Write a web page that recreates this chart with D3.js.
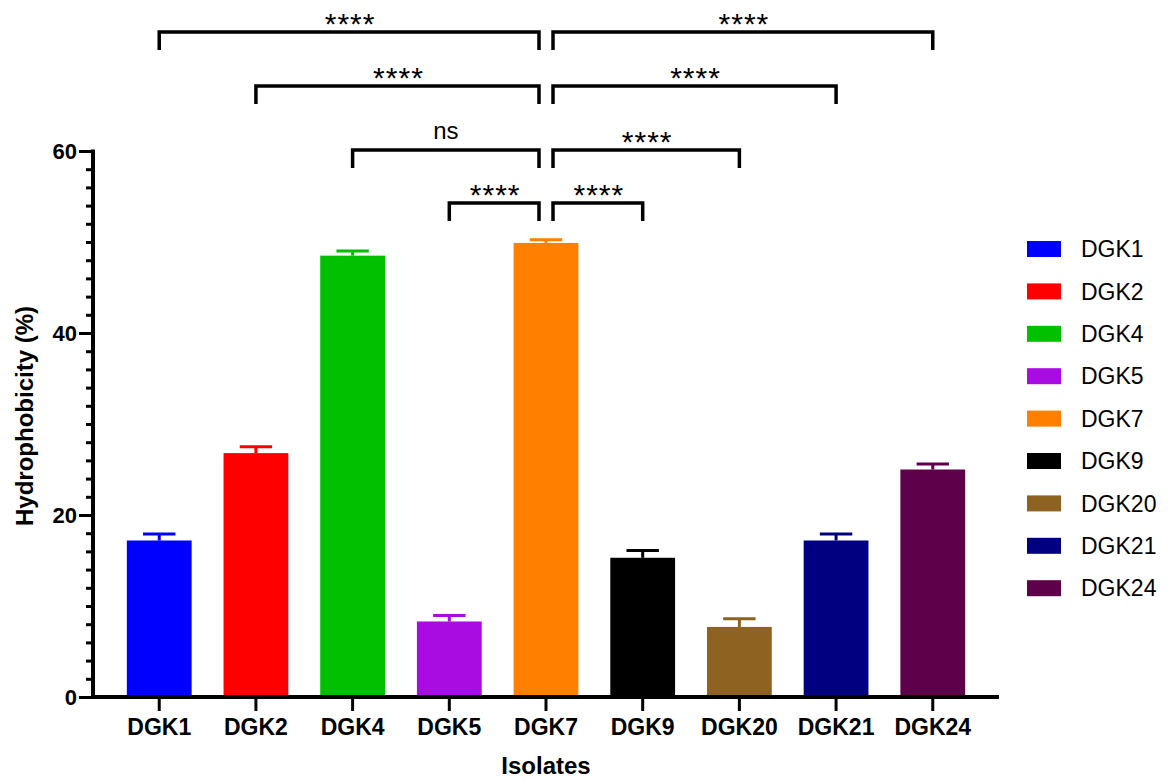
<!DOCTYPE html>
<html>
<head>
<meta charset="utf-8">
<script src="https://cdn.jsdelivr.net/npm/d3@7"></script>
<style>
  body { margin: 0; background: #fff; }
  svg { display: block; font-family: "Liberation Sans", Arial, sans-serif; }
</style>
</head>
<body>
<svg id="chart" width="1170" height="780"></svg>
<script>
// data
var isolates = ["DGK1", "DGK2", "DGK4", "DGK5", "DGK7", "DGK9", "DGK20", "DGK21", "DGK24"];
var means = [17.2, 26.8, 48.5, 8.3, 49.9, 15.3, 7.7, 17.2, 25.0];
var errors = [0.7, 0.7, 0.5, 0.65, 0.35, 0.8, 0.9, 0.7, 0.6];
var colors = ["#0000ff", "#ff0000", "#00c000", "#a80ce0", "#ff8000", "#000000", "#8e6220", "#000080", "#5f004a"];
var yTicks = [0, 20, 40, 60];
var comparisons = [
    ["DGK1", "DGK7", "****"],
    ["DGK2", "DGK7", "****"],
    ["DGK4", "DGK7", "ns"],
    ["DGK5", "DGK7", "****"],
    ["DGK7", "DGK24", "****"],
    ["DGK7", "DGK21", "****"],
    ["DGK7", "DGK20", "****"],
    ["DGK7", "DGK9", "****"]
];

var svg = d3.select("#chart");
var plot = { left: 93, right: 999, top: 151, bottom: 697 };

var xScale = d3.scaleBand()
    .domain(isolates)
    .range([plot.left, plot.right])
    .paddingInner(0.33)
    .paddingOuter(0.35);
var yScale = d3.scaleLinear()
    .domain([0, 60])
    .range([plot.bottom, plot.top]);

var rows = isolates.map(function(name, i){
    return { name: name, mean: means[i], err: errors[i], color: colors[i] };
});

// bars
svg.append("g").selectAll("rect")
    .data(rows)
    .enter()
    .append("rect")
    .attr("x", function(d){ return xScale(d.name); })
    .attr("y", function(d){ return yScale(d.mean); })
    .attr("width", xScale.bandwidth())
    .attr("height", function(d){ return yScale(0) - yScale(d.mean); })
    .attr("fill", function(d){ return d.color; });

// error bars (upper only)
var err = svg.append("g").selectAll("g")
    .data(rows)
    .enter()
    .append("g")
    .attr("stroke", function(d){ return d.color; })
    .attr("stroke-width", 3);
err.append("line")
    .attr("x1", function(d){ return xScale(d.name) + xScale.bandwidth() / 2; })
    .attr("x2", function(d){ return xScale(d.name) + xScale.bandwidth() / 2; })
    .attr("y1", function(d){ return yScale(d.mean); })
    .attr("y2", function(d){ return yScale(d.mean + d.err); });
err.append("line")
    .attr("x1", function(d){ return xScale(d.name) + xScale.bandwidth() / 4; })
    .attr("x2", function(d){ return xScale(d.name) + xScale.bandwidth() * 3 / 4; })
    .attr("y1", function(d){ return yScale(d.mean + d.err); })
    .attr("y2", function(d){ return yScale(d.mean + d.err); });

// y axis with minor ticks
var yAxis = svg.append("g")
    .attr("transform", `translate(${plot.left}, 0)`)
    .call(d3.axisLeft(yScale).tickValues(d3.range(0, 61, 2)).tickSize(7).tickFormat(""));
yAxis.selectAll(".tick line").attr("stroke-width", 3).attr("stroke", "#000");
yAxis.selectAll(".tick")
    .filter(function(d){ return yTicks.indexOf(d) >= 0; })
    .select("line")
    .attr("x2", -14);
yAxis.selectAll(".tick")
    .filter(function(d){ return yTicks.indexOf(d) >= 0; })
    .select("text")
    .text(function(d){ return d; })
    .attr("x", -16)
    .attr("dy", "0.36em")
    .style("font-size", "22px")
    .style("font-weight", "bold")
    .attr("fill", "#000");
yAxis.select(".domain").remove();
svg.append("line")
    .attr("x1", plot.left).attr("x2", plot.left)
    .attr("y1", yScale(60) - 1.5).attr("y2", yScale(0) + 2)
    .attr("stroke", "#000").attr("stroke-width", 4);

// x axis
var xAxis = svg.append("g")
    .attr("transform", `translate(0, ${plot.bottom})`)
    .call(d3.axisBottom(xScale).tickSize(14).tickPadding(8));
xAxis.select(".domain").remove();
xAxis.selectAll(".tick line").attr("stroke-width", 3).attr("stroke", "#000");
xAxis.selectAll(".tick text")
    .style("font-size", "23px")
    .style("font-weight", "bold")
    .attr("fill", "#000");
svg.append("line")
    .attr("x1", plot.left - 2).attr("x2", plot.right)
    .attr("y1", plot.bottom).attr("y2", plot.bottom)
    .attr("stroke", "#000").attr("stroke-width", 4);

// axis titles
svg.append("text")
    .attr("transform", `translate(33, ${(plot.top + plot.bottom) / 2 - 8}) rotate(-90)`)
    .attr("text-anchor", "middle")
    .style("font-size", "24px")
    .style("font-weight", "bold")
    .text("Hydrophobicity (%)");
svg.append("text")
    .attr("x", (plot.left + plot.right) / 2)
    .attr("y", 774)
    .attr("text-anchor", "middle")
    .style("font-size", "24px")
    .style("font-weight", "bold")
    .text("Isolates");

// significance brackets
var levelY = [32, 86, 150, 203];
var centre = function(name){ return xScale(name) + xScale.bandwidth() / 2; };
var leftEnd = function(d){ return centre(d[0]) + (d[1] === "DGK7" ? 0 : 7); };
var rightEnd = function(d){ return centre(d[1]) - (d[1] === "DGK7" ? 7 : 0); };
var brackets = svg.append("g").selectAll("g")
    .data(comparisons)
    .enter()
    .append("g");
brackets.append("path")
    .attr("d", function(d, i){
        var y = levelY[i % 4];
        return `M${leftEnd(d)},${y + 18}V${y}H${rightEnd(d)}V${y + 18}`;
    })
    .attr("fill", "none")
    .attr("stroke", "#000")
    .attr("stroke-width", 3.5);
brackets.append("text")
    .attr("x", function(d){ return (leftEnd(d) + rightEnd(d)) / 2; })
    .attr("y", function(d, i){ return levelY[i % 4] + (d[2] === "ns" ? -11 : 2); })
    .attr("dx", function(d){ return d[2] === "ns" ? 0 : 1; })
    .attr("text-anchor", "middle")
    .style("font-size", function(d){ return d[2] === "ns" ? "24px" : "30px"; })
    .style("letter-spacing", function(d){ return d[2] === "ns" ? "0px" : "1px"; })
    .text(function(d){ return d[2]; });

// legend
var legend = svg.append("g").selectAll("g")
    .data(rows)
    .enter()
    .append("g")
    .attr("transform", function(d, i){ return `translate(1027, ${249 + i * 42.4})`; });
legend.append("rect")
    .attr("x", 0).attr("y", -8)
    .attr("width", 34).attr("height", 16)
    .attr("fill", function(d){ return d.color; });
legend.append("text")
    .attr("x", 54)
    .attr("dy", "0.36em")
    .style("font-size", "23px")
    .text(function(d){ return d.name; });
</script>
</body>
</html>
